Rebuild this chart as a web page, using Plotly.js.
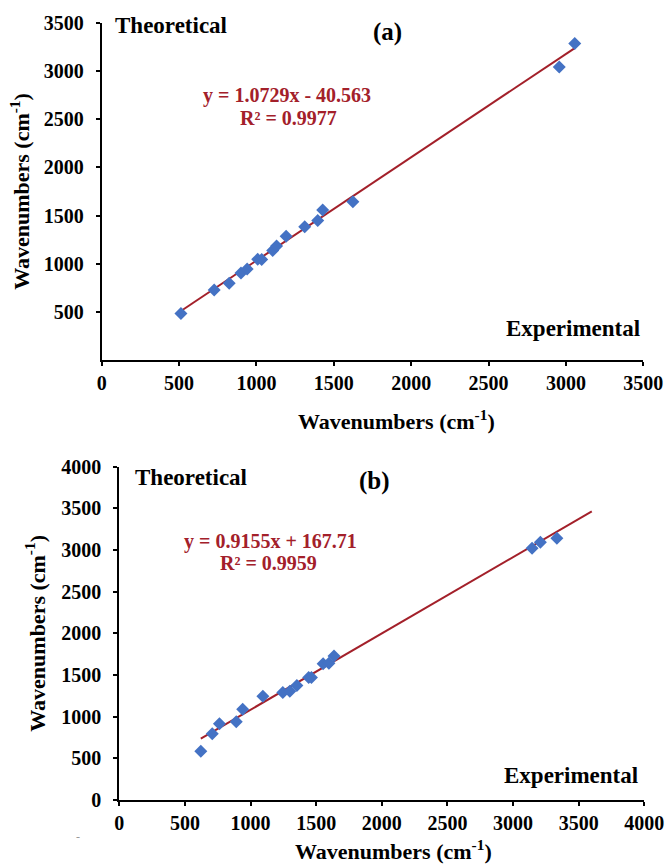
<!DOCTYPE html>
<html>
<head>
<meta charset="utf-8">
<script src="https://cdn.plot.ly/plotly-3.0.1.min.js"></script>
<style>html,body{margin:0;padding:0;background:#fff}#chart{width:670px;height:865px}</style>
</head>
<body>
<div id="chart"></div>
<script>
// ---- Data: panel (a) ----
const expA  = [512, 727, 824, 900, 940, 1008, 1034, 1105, 1130, 1192, 1312, 1396, 1428, 1623, 2957, 3057];
const theoA = [484, 727, 796, 903, 946, 1046, 1045, 1137, 1185, 1284, 1384, 1450, 1557, 1643, 3044, 3286];
const slopeA = 1.0729, interceptA = -40.563;
const eqA = "y = 1.0729x - 40.563";
const r2A = "R² = 0.9977";

// ---- Data: panel (b) ----
const expB  = [621, 708, 763, 891, 940, 1094, 1246, 1299, 1353, 1443, 1464, 1553, 1597, 1636, 3145, 3208, 3334];
const theoB = [586, 794, 916, 940, 1090, 1244, 1290, 1306, 1374, 1470, 1470, 1636, 1640, 1728, 3020, 3094, 3140];
const slopeB = 0.9155, interceptB = 167.71;
const trendEndB = 3600;
const eqB = "y = 0.9155x + 167.71";
const r2B = "R² = 0.9959";

const ticksA = [0, 500, 1000, 1500, 2000, 2500, 3000, 3500];
const yticksA = [500, 1000, 1500, 2000, 2500, 3000, 3500];
const ticksB = [0, 500, 1000, 1500, 2000, 2500, 3000, 3500, 4000];

const axisTitle = "Wavenumbers (cm<sup>-1</sup>)";

// ---- styles ----
const FAM = "Liberation Serif, Times New Roman, serif";
const BLUE = "#4472C4";
const RED = "#A3202A";
const W = 670, H = 865;
const px = x => x / W;
const py = y => 1 - y / H;

const trendA_x = [Math.min(...expA), Math.max(...expA)];
const trendB_x = [Math.min(...expB), trendEndB];

const traces = [
  {x: trendA_x, y: trendA_x.map(v => slopeA * v + interceptA), xaxis:'x', yaxis:'y',
   mode:'lines', line:{color:RED, width:2}, hoverinfo:'skip'},
  {x: expA, y: theoA, xaxis:'x', yaxis:'y', mode:'markers',
   marker:{symbol:'diamond', size:10, color:BLUE, line:{width:0}}},
  {x: trendB_x, y: trendB_x.map(v => slopeB * v + interceptB), xaxis:'x2', yaxis:'y2',
   mode:'lines', line:{color:RED, width:2}, hoverinfo:'skip'},
  {x: expB, y: theoB, xaxis:'x2', yaxis:'y2', mode:'markers',
   marker:{symbol:'diamond', size:10, color:BLUE, line:{width:0}}}
];

const tickFont = {family:FAM, size:20, color:'#000', weight:'bold'};
const titleFont = {family:FAM, size:22, color:'#000', weight:'bold'};
const labelFont = {family:FAM, size:23, color:'#000', weight:'bold'};
const eqFont = {family:FAM, size:20, color:RED, weight:'bold'};
const panelFont = {family:FAM, size:25, color:'#000', weight:'bold'};

function ax(extra) {
  return Object.assign({
    showline:true, linecolor:'#000', linewidth:2,
    ticks:'outside', ticklen:4, tickwidth:2, tickcolor:'#000',
    showgrid:false, zeroline:false, mirror:false,
    tickfont:tickFont, tickmode:'array', automargin:false,
    ticklabelstandoff: 8
  }, extra);
}

const layout = {
  width:W, height:H,
  margin:{l:0, r:0, t:0, b:0},
  paper_bgcolor:'#fff', plot_bgcolor:'#fff',
  showlegend:false,
  font:{family:FAM, color:'#000'},
  xaxis: ax({domain:[px(101.7), px(643.3)], range:[0,3500], tickvals:ticksA, anchor:'y',
             ticklabelstandoff:0}),
  yaxis: ax({domain:[py(360), py(23)], range:[0,3500], tickvals:yticksA, anchor:'x',
             title:{text:axisTitle, font:titleFont, standoff:8}}),
  xaxis2: ax({domain:[px(119.3), px(644.3)], range:[0,4000], tickvals:ticksB, anchor:'y2',
             ticklabelstandoff:0}),
  yaxis2: ax({domain:[py(800), py(466.7)], range:[0,4000], tickvals:ticksB, anchor:'x2',
             title:{text:axisTitle, font:titleFont, standoff:10}}),
  annotations: [
    {text:axisTitle, x:px(397), y:py(420), xanchor:'center', yanchor:'middle', font:titleFont},
    {text:axisTitle, x:px(393), y:py(850), xanchor:'center', yanchor:'middle', font:titleFont},
    {text:"Theoretical", x:px(113), y:py(25), xanchor:'left', yanchor:'middle', font:labelFont},
    {text:"(a)", x:px(387), y:py(32), xanchor:'center', yanchor:'middle', font:panelFont},
    {text:eqA, x:px(287), y:py(96), xanchor:'center', yanchor:'middle', font:eqFont},
    {text:r2A, x:px(288), y:py(118), xanchor:'center', yanchor:'middle', font:eqFont},
    {text:"Experimental", x:px(642), y:py(328), xanchor:'right', yanchor:'middle', font:labelFont},
    {text:"Theoretical", x:px(133), y:py(477), xanchor:'left', yanchor:'middle', font:labelFont},
    {text:"(b)", x:px(374), y:py(481), xanchor:'center', yanchor:'middle', font:panelFont},
    {text:eqB, x:px(270), y:py(541), xanchor:'center', yanchor:'middle', font:eqFont},
    {text:r2B, x:px(268), y:py(563), xanchor:'center', yanchor:'middle', font:eqFont},
    {text:"Experimental", x:px(640), y:py(775), xanchor:'right', yanchor:'middle', font:labelFont},
    {text:"-", x:px(78), y:py(837), xanchor:'center', yanchor:'middle', font:{family:FAM, size:12, color:'#999'}}
  ].map(a => Object.assign({xref:'paper', yref:'paper', showarrow:false}, a))
};

Plotly.newPlot('chart', traces, layout, {staticPlot:true, displayModeBar:false});
</script>
</body>
</html>
